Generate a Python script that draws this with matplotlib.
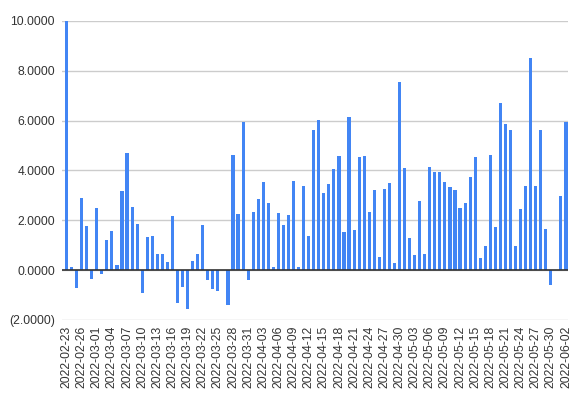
import datetime as dt
import matplotlib
matplotlib.use("Agg")
import matplotlib.pyplot as plt
from matplotlib.ticker import FuncFormatter

plt.rcParams['font.family'] = ['Liberation Sans', 'DejaVu Sans']

start = dt.date(2022, 2, 23)
dates = [(start + dt.timedelta(days=i)).isoformat() for i in range(100)]

values = [
    10.00, 0.11, -0.72, 2.89, 1.77, -0.36, 2.49, -0.16, 1.19, 1.57,
    0.20, 3.17, 4.70, 2.53, 1.85, -0.92, 1.32, 1.36, 0.64, 0.64,
    0.32, 2.17, -1.32, -0.68, -1.57, 0.36, 0.64, 1.81, -0.40, -0.76,
    -0.84, 0.00, -1.40, 4.62, 2.25, 5.94, -0.40, 2.33, 2.85, 3.53,
    2.69, 0.12, 2.29, 1.81, 2.21, 3.57, 0.12, 3.37, 1.36, 5.62,
    6.02, 3.09, 3.45, 4.05, 4.58, 1.53, 6.14, 1.61, 4.54, 4.58,
    2.33, 3.21, 0.52, 3.25, 3.49, 0.28, 7.55, 4.09, 1.28, 0.60,
    2.77, 0.64, 4.13, 3.93, 3.93, 3.53, 3.33, 3.21, 2.49, 2.69,
    3.73, 4.54, 0.48, 0.96, 4.62, 1.73, 6.70, 5.86, 5.62, 0.96,
    2.45, 3.37, 8.51, 3.37, 5.62, 1.65, -0.60, 0.00, 2.97, 5.94,
]
yticks = [-2, 0, 2, 4, 6, 8, 10]


def fmt(v, pos):
    if v < 0:
        return "({:.4f})".format(-v)
    return "{:.4f}".format(v)


fig = plt.figure(figsize=(5.79, 3.94), dpi=100)
ax = fig.add_axes([0.107, 0.188, 0.874, 0.759])

x = list(range(len(dates)))
ax.bar(x, values, width=0.62, color='#4285f4', zorder=3)

ax.set_ylim(-2, 10)
ax.set_xlim(-0.9, 99.4)
ax.set_yticks(yticks)
ax.yaxis.set_major_formatter(FuncFormatter(fmt))
ax.grid(axis='y', color='#cccccc', linewidth=1, zorder=0)
ax.axhline(0, color='#333333', linewidth=1.2, zorder=4)

ax.set_xticks(x[::3])
ax.set_xticklabels(dates[::3], rotation=90)
ax.tick_params(axis='both', length=0, labelsize=8.7, labelcolor='#333333')
ax.tick_params(axis='x', pad=4)
ax.tick_params(axis='y', pad=5)

for s in ax.spines.values():
    s.set_visible(False)

fig.savefig("out.png", dpi=100)
